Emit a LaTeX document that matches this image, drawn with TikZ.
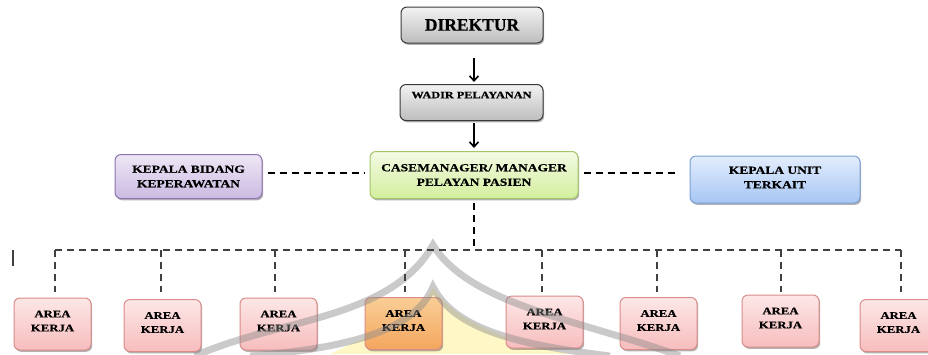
\documentclass[tikz,border=0pt]{standalone}
\usepackage{fontspec}
\setmainfont{Liberation Serif}
\newfontfamily\widefont{Liberation Serif}[FakeStretch=1.25,FakeBold=0.6]
\newfontfamily\headfont{Liberation Serif}[FakeBold=0.6]
\usetikzlibrary{arrows.meta,shadows}
\definecolor{gytop}{HTML}{F2F2F2}\definecolor{gybot}{HTML}{BDBDBD}\definecolor{gydraw}{HTML}{3A3A3A}
\definecolor{grtop}{HTML}{F4FBE4}\definecolor{grbot}{HTML}{D3EE9E}\definecolor{grdraw}{HTML}{A5C46A}
\definecolor{putop}{HTML}{EEE7F5}\definecolor{pubot}{HTML}{CBBAE2}\definecolor{pudraw}{HTML}{8C73AE}
\definecolor{bltop}{HTML}{E3EDFC}\definecolor{blbot}{HTML}{A6C6F4}\definecolor{bldraw}{HTML}{7C9FD4}
\definecolor{pktop}{HTML}{FDE7E7}\definecolor{pkbot}{HTML}{F7BDBD}\definecolor{pkdraw}{HTML}{D98C8A}
\definecolor{ortop}{HTML}{F9CE96}\definecolor{orbot}{HTML}{F4A65E}
\definecolor{busgray}{HTML}{404040}
\definecolor{wmgray}{HTML}{8A8A8A}
\definecolor{wmyellow}{HTML}{FFF3A0}
\tikzset{
  box/.style={rounded corners=6pt, draw, line width=1pt, align=center, inner sep=0pt,
    drop shadow={shadow xshift=1.2pt, shadow yshift=-1.8pt, opacity=0.3, fill=black}},
  graybox/.style={box, top color=gytop, bottom color=gybot, draw=gydraw},
  greenbox/.style={box, top color=grtop, bottom color=grbot, draw=grdraw},
  purplebox/.style={box, top color=putop, bottom color=pubot, draw=pudraw},
  bluebox/.style={box, top color=bltop, bottom color=blbot, draw=bldraw},
  pinkbox/.style={box, top color=pktop, bottom color=pkbot, draw=pkdraw, minimum width=77pt, minimum height=52pt,
     font=\widefont\bfseries\fontsize{10.2pt}{14pt}\selectfont, text depth=6pt},
  orangebox/.style={pinkbox, top color=ortop, bottom color=orbot},
  smallfont/.style={font=\widefont\bfseries\fontsize{10.8pt}{14.5pt}\selectfont},
  arr/.style={-{Straight Barb[length=5pt,width=9pt,line width=1.6pt]}, line width=1.8pt},
  maindash/.style={line width=1.8pt, dash pattern=on 7pt off 5pt},
  busdash/.style={line width=1.8pt, dash pattern=on 7pt off 5pt, draw=busgray},
  wmband/.style={line width=7pt, draw=wmgray, opacity=0.45},
}
\begin{document}
\begin{tikzpicture}[x=1pt,y=-1pt]
\useasboundingbox (0,0) rectangle (928,354);
% watermark background (yellow)
\fill[wmyellow, opacity=0.6] (330,354) .. controls (380,330) and (415,320) .. (433,288)
   .. controls (455,320) and (500,340) .. (570,354) -- cycle;

\node[graybox, minimum width=142pt, minimum height=36pt, font=\headfont\bfseries\fontsize{17.5pt}{19pt}\selectfont] (dir) at (472,25) {DIREKTUR};
\node[graybox, minimum width=143pt, minimum height=36pt, font=\widefont\bfseries\fontsize{9.8pt}{11pt}\selectfont, text depth=15pt] (wadir) at (471.5,102.5) {WADIR PELAYANAN};
\node[greenbox, smallfont, minimum width=208pt, minimum height=47pt] (cm) at (474,175) {CASEMANAGER/ MANAGER\\PELAYAN PASIEN};
\node[purplebox, smallfont, minimum width=147pt, minimum height=44pt] (kb) at (188.5,176.5) {KEPALA BIDANG\\KEPERAWATAN};
\node[bluebox, smallfont, minimum width=170pt, minimum height=47pt, text depth=4pt] (ku) at (775,179.5) {KEPALA UNIT\\TERKAIT};

\draw[arr, shorten <=14pt, shorten >=2pt] (dir.south -| 474,0) -- (wadir.north -| 474,0);
\draw[arr, shorten <=2pt, shorten >=3pt] (wadir.south -| 474,0) -- (cm.north -| 474,0);

\draw[maindash, shorten <=5pt, shorten >=5pt] (kb.east |- 0,173) -- (cm.west |- 0,173);
\draw[maindash, shorten <=5pt, shorten >=11pt] (cm.east |- 0,173) -- (ku.west |- 0,173);

\node[pinkbox] (a1) at (52.5,324) {AREA\\KERJA};
\node[pinkbox] (a2) at (162.5,325.5) {AREA\\KERJA};
\node[pinkbox] (a3) at (278.5,324) {AREA\\KERJA};
\node[orangebox] (a4) at (403.5,323.5) {AREA\\KERJA};
\node[pinkbox] (a5) at (544.5,322) {AREA\\KERJA};
\node[pinkbox] (a6) at (658.5,323.5) {AREA\\KERJA};
\node[pinkbox] (a7) at (780.5,321) {AREA\\KERJA};
\node[pinkbox] (a8) at (898.5,325.5) {AREA\\KERJA};

% watermark bands
\draw[wmband] (195,356) .. controls (280,318) and (390,320) .. (433,245)
   .. controls (470,305) and (580,320) .. (680,356);
\draw[wmband] (250,356) .. controls (350,348) and (415,330) .. (433,287)
   .. controls (455,330) and (520,345) .. (610,356);

\coordinate (busl) at (55,250);
\coordinate (busr) at (901,250);
\coordinate (tick1) at (13,250);
\coordinate (tick2) at (13,266);
\draw[maindash, shorten <=4pt] (cm.south -| 474,0) -- (474,250);
\draw[busdash] (busl) -- (busr);
\foreach \n/\x in {a1/55,a2/161,a3/275,a4/405,a5/542,a6/657,a7/781,a8/901}
  \draw[busdash] (\x,250) -- (\x,292);
\draw[line width=1.6pt, busgray] (tick1) -- (tick2);
\end{tikzpicture}
\end{document}
